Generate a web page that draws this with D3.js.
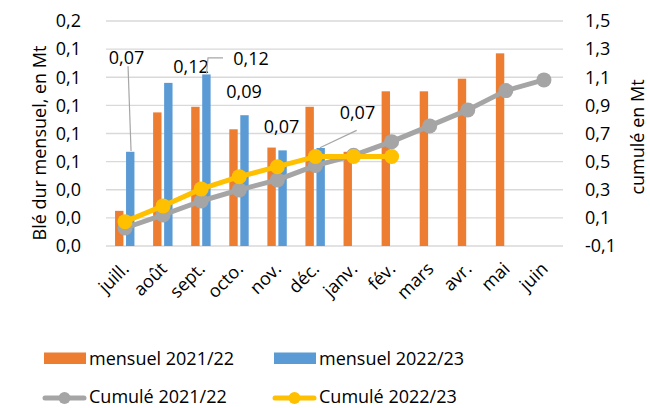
<!DOCTYPE html>
<html><head><meta charset="utf-8">
<script src="https://cdn.jsdelivr.net/npm/d3@7"></script>
<style>
html,body{margin:0;padding:0;background:#fff;}
svg text{font-family:"Open Sans",Lato,sans-serif;fill:#000;}
</style></head>
<body><svg id="c" width="650" height="408"></svg>
<script>
const categories = ["juill.","août","sept.","octo.","nov.","déc.","janv.","fév.","mars","avr.","mai","juin"];
const mensuel2122 = [0.025,0.095,0.099,0.083,0.070,0.099,0.067,0.110,0.110,0.119,0.137,null];
const mensuel2223 = [0.067,0.116,0.122,0.093,0.068,0.0697,null,null,null,null,null,null];
const cumul2122 = [0.028,0.121,0.220,0.299,0.370,0.472,0.545,0.642,0.754,0.868,1.005,1.081];
const cumul2223 = [0.073,0.185,0.306,0.393,0.464,0.536,0.536,0.536,null,null,null,null];
const leftTickValues = [0,0.02,0.04,0.06,0.08,0.10,0.12,0.14,0.16];
const leftTickLabels = ["0,0","0,0","0,0","0,1","0,1","0,1","0,1","0,1","0,2"];
const rightTickValues = [-0.1,0.1,0.3,0.5,0.7,0.9,1.1,1.3,1.5];
const rightTickLabels = ["-0,1","0,1","0,3","0,5","0,7","0,9","1,1","1,3","1,5"];
const seriesNames = ["mensuel 2021/22","mensuel 2022/23","Cumulé 2021/22","Cumulé 2022/23"];

const C = {orange:"#ED7D31", blue:"#5B9BD5", gray:"#A5A5A5", yellow:"#FFC000", grid:"#D9D9D9"};
const svg = d3.select("#c");
const L = 106, R = 563, T = 21, B = 246;
const x = d3.scaleBand().domain(categories).range([L, R]).padding(0);
const yL = d3.scaleLinear().domain([0, 0.16]).range([B, T]);
const yR = d3.scaleLinear().domain([-0.1, 1.5]).range([B, T]);
const cx = c => x(c) + x.bandwidth()/2;
const fs = 18;
const FF = "Open Sans";

// gridlines
svg.append("g").selectAll("line").data(leftTickValues).join("line")
  .attr("x1", L).attr("x2", R).attr("y1", d=>yL(d)).attr("y2", d=>yL(d))
  .attr("stroke", C.grid).attr("stroke-width", 1.3);

// left axis
const axL = svg.append("g").attr("transform", `translate(${L},0)`)
  .call(d3.axisLeft(yL).tickValues(leftTickValues).tickFormat((d,i)=>leftTickLabels[i]).tickSize(0).tickPadding(25));
axL.select(".domain").remove();
axL.selectAll("text").attr("font-size", fs).style("font-family",FF);

// right axis
const axR = svg.append("g").attr("transform", `translate(${R},0)`)
  .call(d3.axisRight(yR).tickValues(rightTickValues).tickFormat((d,i)=>rightTickLabels[i]).tickSize(0).tickPadding(22));
axR.select(".domain").remove();
axR.selectAll("text").attr("font-size", fs).style("font-family",FF);

// x axis labels
const axX = svg.append("g").attr("transform", `translate(0,${B})`)
  .call(d3.axisBottom(x).tickSize(0).tickPadding(0));
axX.select(".domain").remove();
axX.selectAll("text").attr("font-size", fs).style("font-family",FF)
  .attr("text-anchor","end").attr("dy",0).attr("y",0)
  .attr("transform","translate(5,24) rotate(-45)");

// axis titles
svg.append("text").attr("transform","translate(46,143) rotate(-90)").attr("text-anchor","middle")
  .attr("font-size", fs).text("Blé dur mensuel, en Mt");
svg.append("text").attr("transform","translate(644,137) rotate(-90)").attr("text-anchor","middle")
  .attr("font-size", fs).text("cumulé en Mt");

// bars
const barW = 8.4;
svg.append("g").selectAll("rect").data(categories.map((c,i)=>({c,v:mensuel2122[i]})).filter(d=>d.v!=null)).join("rect")
  .attr("x", d=>cx(d.c)-10).attr("width", barW).attr("y", d=>yL(d.v)).attr("height", d=>B-yL(d.v)).attr("fill", C.orange);
svg.append("g").selectAll("rect").data(categories.map((c,i)=>({c,v:mensuel2223[i]})).filter(d=>d.v!=null)).join("rect")
  .attr("x", d=>cx(d.c)+1).attr("width", barW).attr("y", d=>yL(d.v)).attr("height", d=>B-yL(d.v)).attr("fill", C.blue);

// lines
function drawLine(vals, color){
  const pts = categories.map((c,i)=>({c,v:vals[i]})).filter(d=>d.v!=null);
  svg.append("path").datum(pts).attr("fill","none").attr("stroke",color).attr("stroke-width",5)
    .attr("stroke-linejoin","round").attr("stroke-linecap","round")
    .attr("d", d3.line().x(d=>cx(d.c)).y(d=>yR(d.v)));
  svg.append("g").selectAll("circle").data(pts).join("circle")
    .attr("cx", d=>cx(d.c)).attr("cy", d=>yR(d.v)).attr("r", 7.5).attr("fill", color);
}
drawLine(cumul2122, C.gray);
drawLine(cumul2223, C.yellow);

// data labels for mensuel 2022/23
const fmt2 = d3.formatLocale({decimal:",",thousands:" ",grouping:[3],currency:["","€"],minus:"-"}).format(".2f");
const labelOffsets = [[-3.7,-88],[22.7,-10],[44.6,-9],[-0.5,-17.7],[-1,-17.3],[36.8,-29]];
const leaders = [
  [[-2.2,-85.5],[0.8,-0.7]],
  null,
  [[16.6,-16.5],[1.6,-16.5],[0.1,-1]],
  null,
  null,
  [[36,-17.6],[-0.7,-0.3]]
];
const lbl = svg.append("g");
categories.forEach((c,i)=>{
  const v = mensuel2223[i];
  if (v==null) return;
  const bx = cx(c)+1+barW/2, by = yL(v);
  if (leaders[i]) {
    lbl.append("path").attr("fill","none").attr("stroke","#A6A6A6").attr("stroke-width",1.2)
      .attr("d", d3.line()(leaders[i].map(p=>[bx+p[0], by+p[1]])));
  }
  lbl.append("text").attr("x", bx+labelOffsets[i][0]).attr("y", by+labelOffsets[i][1])
    .attr("text-anchor","middle").attr("font-size", fs).text(fmt2(v));
});

// legend
const lg = svg.append("g");
lg.append("rect").attr("x",44).attr("y",352.5).attr("width",42).attr("height",11.5).attr("fill",C.orange);
lg.append("text").attr("x",89).attr("y",365).attr("font-size",fs).text(seriesNames[0]);
lg.append("rect").attr("x",274).attr("y",352.5).attr("width",42).attr("height",11.5).attr("fill",C.blue);
lg.append("text").attr("x",319).attr("y",365).attr("font-size",fs).text(seriesNames[1]);
[[43,C.gray,seriesNames[2]],[273,C.yellow,seriesNames[3]]].forEach(([lx,col,name])=>{
  lg.append("line").attr("x1",lx+2).attr("x2",lx+41).attr("y1",398).attr("y2",398)
    .attr("stroke",col).attr("stroke-width",5).attr("stroke-linecap","round");
  lg.append("circle").attr("cx",lx+21.5).attr("cy",398).attr("r",6).attr("fill",col);
  lg.append("text").attr("x",lx+46).attr("y",403).attr("font-size",fs).text(name);
});
</script></body></html>
